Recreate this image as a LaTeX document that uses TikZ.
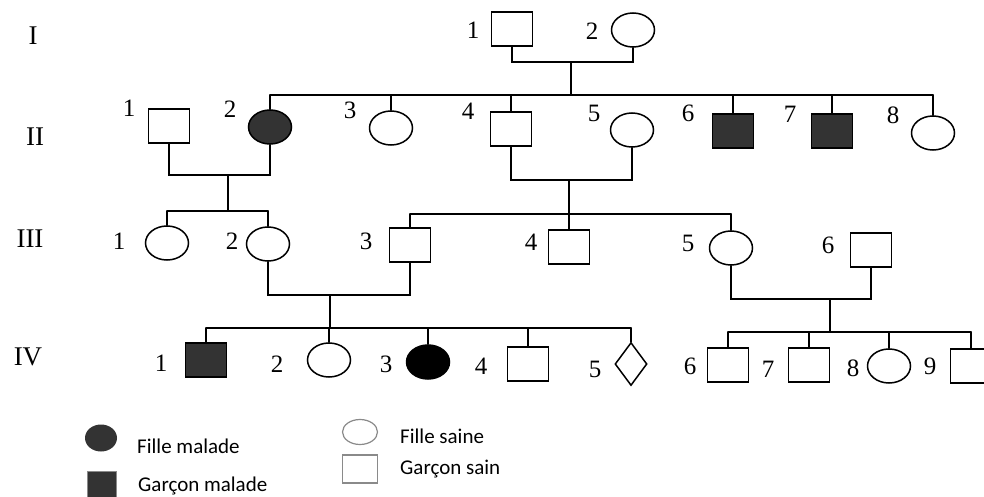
\documentclass[tikz,border=0pt]{standalone}
\usepackage{fontspec}
\setmainfont{Liberation Serif}
\newfontfamily\legfont{Carlito}
\usetikzlibrary{shapes.geometric}
\tikzset{
  lw/.style={line width=1.5pt},
  male/.style={draw, lw, rectangle, minimum width=41pt, minimum height=34pt, inner sep=0pt},
  female/.style={draw, lw, ellipse, minimum width=43pt, minimum height=34pt, inner sep=0pt},
  unk/.style={draw, lw, diamond, minimum width=32pt, minimum height=43pt, inner sep=0pt},
  sick/.style={fill=sickgray},
  num/.style={font=\fontsize{25}{25}\selectfont, inner sep=0pt},
  gen/.style={font=\fontsize{27}{27}\selectfont, inner sep=0pt},
  leg/.style={font=\legfont\fontsize{21}{21}\selectfont, anchor=west, inner sep=0pt},
  link/.style={lw, line cap=round}
}
\definecolor{sickgray}{HTML}{333333}
\definecolor{leggray}{HTML}{8A8A8A}
\begin{document}
\begin{tikzpicture}[x=1pt,y=-1pt]
\clip (0,0) rectangle (984,497);
\fill[white] (0,0) rectangle (984,497);
% generation labels
\node[gen] (gI) at (33,36) {I};
\node[gen] (gII) at (35,137) {II};
\node[gen] (gIII) at (30,239) {III};
\node[gen] (gIV) at (28,357) {IV};
% Generation I
\node[male] (I1) at (512,29) {};
\node[female] (I2) at (633,30) {};
\node[num] (nI1) at (473,30) {1};
\node[num] (nI2) at (592,31) {2};
% Generation II
\node[male] (II1) at (169,126) {};
\node[female, sick] (II2) at (270,127) {};
\node[female] (II3) at (391,128) {};
\node[male] (II4) at (511,129) {};
\node[female] (II5) at (632,130) {};
\node[male, sick] (II6) at (733,131) {};
\node[male, sick] (II7) at (832,131) {};
\node[female] (II8) at (933,133) {};
\node[num] (nII1) at (129,108) {1};
\node[num] (nII2) at (230,109) {2};
\node[num] (nII3) at (350,110) {3};
\node[num] (nII4) at (468,111) {4};
\node[num] (nII5) at (594,113) {5};
\node[num] (nII6) at (688,113) {6};
\node[num] (nII7) at (790,114) {7};
\node[num] (nII8) at (893,115) {8};
% Generation III
\node[female] (III1) at (167,243) {};
\node[female] (III2) at (268,244) {};
\node[male] (III3) at (410,245) {};
\node[male] (III4) at (569,247) {};
\node[female] (III5) at (731,248) {};
\node[male] (III6) at (871,250) {};
\node[num] (nIII1) at (119,241) {1};
\node[num] (nIII2) at (232,241) {2};
\node[num] (nIII3) at (366,241) {3};
\node[num] (nIII4) at (531,242) {4};
\node[num] (nIII5) at (688,243) {5};
\node[num] (nIII6) at (828,245) {6};
% Generation IV
\node[male, sick] (IV1) at (206,360) {};
\node[female] (IV2) at (329,360) {};
\node[female, fill=black] (IV3) at (428,362) {};
\node[male] (IV4) at (528,364) {};
\node[unk] (IV5) at (631,364) {};
\node[male] (IV6) at (728,365) {};
\node[male] (IV7) at (809,365) {};
\node[female] (IV8) at (889,366) {};
\node[male] (IV9) at (971,366) {};
\node[num] (nIV1) at (161,363) {1};
\node[num] (nIV2) at (277,364) {2};
\node[num] (nIV3) at (386,364) {3};
\node[num] (nIV4) at (481,366) {4};
\node[num] (nIV5) at (595,369) {5};
\node[num] (nIV6) at (690,366) {6};
\node[num] (nIV7) at (768,369) {7};
\node[num] (nIV8) at (853,368) {8};
\node[num] (nIV9) at (930,366) {9};
% couple I
\coordinate (mI) at (571,62);
\coordinate (sII) at (571,95);
\draw[link] (I1.south) |- (mI) -| (I2.south);
\draw[link] (mI) -- (sII);
\draw[link] (II2.north |- sII) -- (II8.north |- sII);
\foreach \c in {II2,II3,II4,II6,II7,II8}
  \draw[link] (\c.north) -- (\c.north |- sII);
% couple II1 x II2
\coordinate (mII12) at (228,175);
\coordinate (sIIIa) at (228,211);
\draw[link] (II1.south) |- (mII12) -| (II2.south);
\draw[link] (mII12) -- (sIIIa);
\draw[link] (III1.north |- sIIIa) -- (III2.north |- sIIIa);
\foreach \c in {III1,III2}
  \draw[link] (\c.north) -- (\c.north |- sIIIa);
% couple II4 x II5
\coordinate (mII45) at (569,180);
\coordinate (sIIIb) at (569,214);
\draw[link] (II4.south) |- (mII45) -| (II5.south);
\draw[link] (mII45) -- (sIIIb);
\draw[link] (III3.north |- sIIIb) -- (III5.north |- sIIIb);
\foreach \c in {III3,III4,III5}
  \draw[link] (\c.north) -- (\c.north |- sIIIb);
% couple III2 x III3
\coordinate (mIII23) at (330,295);
\coordinate (sIVa) at (330,328);
\draw[link] (III2.south) |- (mIII23) -| (III3.south);
\draw[link] (mIII23) -- (sIVa);
\draw[link] (IV1.north |- sIVa) -- (IV5.north |- sIVa);
\foreach \c in {IV1,IV2,IV3,IV4,IV5}
  \draw[link] (\c.north) -- (\c.north |- sIVa);
% couple III5 x III6
\coordinate (mIII56) at (830,299);
\coordinate (sIVb) at (830,332);
\draw[link] (III5.south) |- (mIII56) -| (III6.south);
\draw[link] (mIII56) -- (sIVb);
\draw[link] (IV6.north |- sIVb) -- (IV9.north |- sIVb);
\foreach \c in {IV6,IV7,IV8,IV9}
  \draw[link] (\c.north) -- (\c.north |- sIVb);
% legend
\node[ellipse, fill=sickgray, minimum width=32pt, minimum height=27pt, inner sep=0pt] (lc1) at (101,438) {};
\node[leg] (lt1) at (137,446) {Fille malade};
\node[rectangle, fill=sickgray, draw=leggray, line width=1pt, minimum width=29pt, minimum height=28pt, inner sep=0pt] (ls1) at (102,485) {};
\node[leg] (lt2) at (138,486) {Garçon malade};
\node[ellipse, draw=leggray, line width=1.2pt, minimum width=35pt, minimum height=25pt, inner sep=0pt] (lc2) at (360,432) {};
\node[leg] (lt3) at (400,436) {Fille saine};
\node[rectangle, draw=leggray, line width=1.2pt, minimum width=35pt, minimum height=28pt, inner sep=0pt] (ls2) at (360,469) {};
\node[leg] (lt4) at (400,469) {Garçon sain};
\end{tikzpicture}
\end{document}
